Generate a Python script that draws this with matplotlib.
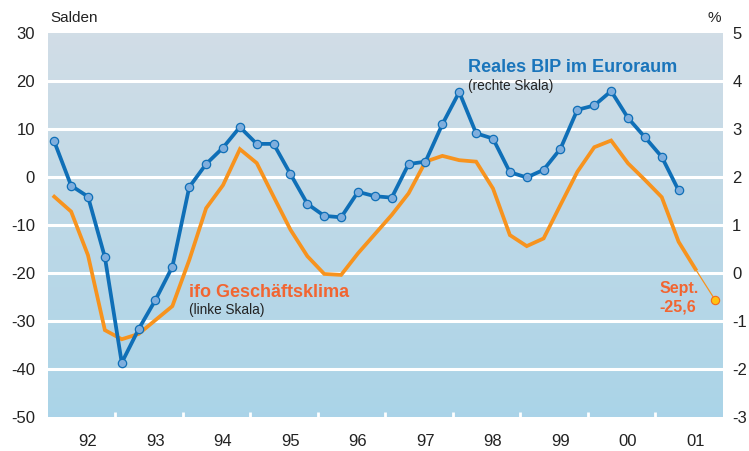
import numpy as np
import matplotlib.pyplot as plt

# quarterly values, Q1 1992 .. Q2 2001 (BIP) / Q3 2001 (ifo)
bip = [2.74, 1.82, 1.59, 0.33,
       -1.87, -1.17, -0.56, 0.13,
       1.79, 2.27, 2.61, 3.04,
       2.69, 2.69, 2.06, 1.44,
       1.19, 1.16, 1.69, 1.60,
       1.57, 2.27, 2.32, 3.10,
       3.77, 2.91, 2.80, 2.10,
       1.99, 2.15, 2.59, 3.40,
       3.49, 3.79, 3.23, 2.83,
       2.42, 1.72]
ifo = [-4.1, -7.2, -16.3, -31.9,
       -33.8, -32.7, -29.8, -26.9,
       -17.3, -6.5, -1.7, 5.8,
       2.9, -4.1, -11.0, -16.5,
       -20.2, -20.4, -15.9, -11.9,
       -7.9, -3.4, 3.2, 4.4,
       3.5, 3.2, -2.4, -12.1,
       -14.4, -12.8, -5.8, 1.1,
       6.2, 7.6, 2.85, -0.6,
       -4.2, -13.5, -19.2]
sept_x = 2001.89
sept_val = -25.6
years = list(range(1992, 2002))
year_labels = ["92", "93", "94", "95", "96", "97", "98", "99", "00", "01"]
left_ticks = [30, 20, 10, 0, -10, -20, -30, -40, -50]
right_ticks = [5, 4, 3, 2, 1, 0, -1, -2, -3]

x_bip = 1992.1 + 0.25 * np.arange(len(bip))
x_ifo = 1992.1 + 0.25 * np.arange(len(ifo))

plt.rcParams['font.family'] = ['Liberation Sans', 'DejaVu Sans']

fig = plt.figure(figsize=(7.49, 4.51), dpi=100)
ax = fig.add_axes([47.5 / 749, 34 / 451, 675 / 749, 384 / 451])

# background gradient
grad = np.linspace(0, 1, 256).reshape(-1, 1)
top = np.array([0.820, 0.867, 0.902])
bot = np.array([0.667, 0.831, 0.910])
img = top + (bot - top) * grad[:, :, None]
ax.imshow(img, extent=[1992, 2002, -50, 30], aspect='auto', zorder=0)

ax.set_xlim(1992, 2002)
ax.set_ylim(-50, 30)
for v in left_ticks[1:-1]:
    ax.axhline(v, color='white', lw=2.2, zorder=1)

ax.plot(x_ifo, ifo, color='#F7931E', lw=2.7, zorder=3, solid_joinstyle='miter')
ax.plot([x_ifo[-1], sept_x], [ifo[-1], sept_val], color='#F7931E', lw=0.9, zorder=3)
ax.plot([sept_x], [sept_val], 'o', ms=6, mfc='#FFC20E', mec='#F26A21', mew=0.8, zorder=5, clip_on=False)

for s in ax.spines.values():
    s.set_visible(False)

ax.set_yticks(left_ticks)
ax.set_yticklabels([str(v) for v in left_ticks])
ax.tick_params(axis='y', length=0, labelsize=12, pad=9, colors='#222222')
ax.set_xticks([y + 0.6 for y in years])
ax.set_xticklabels(year_labels)
ax.tick_params(axis='x', which='major', length=0, labelsize=12, pad=12, colors='#222222')
ax.set_xticks(range(1993, 2002), minor=True)
ax.tick_params(axis='x', which='minor', direction='inout', length=7, width=2, color='white')

ax2 = ax.twinx()
ax2.set_ylim(-3, 5)
ax2.plot(x_bip, bip, color='#0F6FB7', lw=2.7, marker='o', ms=6,
         mfc='#7FAEDD', mec='#0F6FB7', mew=0.9, zorder=4)
for s in ax2.spines.values():
    s.set_visible(False)
ax2.set_yticks(right_ticks)
ax2.set_yticklabels([str(v) for v in right_ticks])
ax2.tick_params(axis='y', length=0, labelsize=12, pad=7, colors='#222222')

fig.text(50 / 749, 1 - 18 / 451, "Salden", fontsize=11, va='center', ha='left', color='#222222')
fig.text(721 / 749, 1 - 18 / 451, "%", fontsize=11, va='center', ha='right', color='#222222')

ax.text(1998.23, 21.9, "Reales BIP im Euroraum", fontsize=13, fontweight='bold',
        color='#1A75BB', ha='left', va='baseline')
ax.text(1998.23, 18.9, "(rechte Skala)", fontsize=9.8, color='#222222', ha='left', va='center')
ax.text(1994.1, -25.0, "ifo Geschäftsklima", fontsize=13, fontweight='bold',
        color='#F26531', ha='left', va='baseline')
ax.text(1994.1, -27.7, "(linke Skala)", fontsize=9.8, color='#222222', ha='left', va='center')
ax.text(2001.06, -24.2, "Sept.", fontsize=11.5, fontweight='bold', color='#F26531',
        ha='left', va='baseline')
ax.text(2001.06, -28.1, "-25,6", fontsize=11.5, fontweight='bold', color='#F26531',
        ha='left', va='baseline')

fig.savefig("out.png", dpi=100)
